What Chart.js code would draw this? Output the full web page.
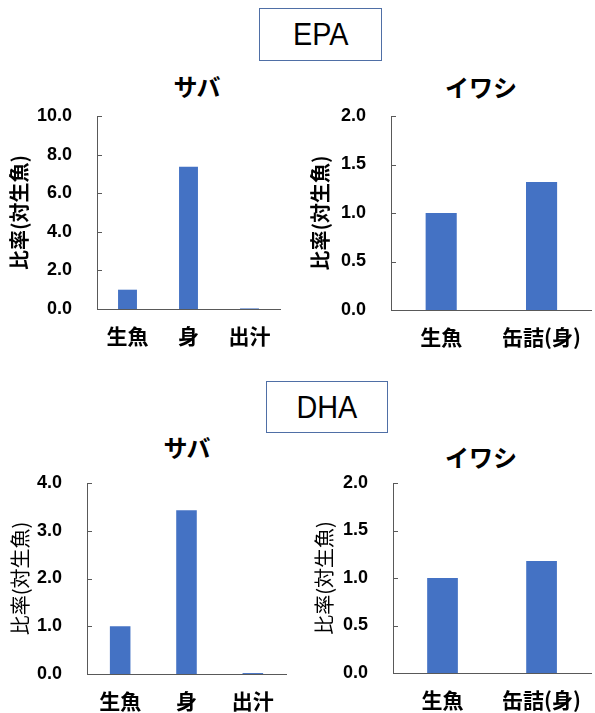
<!DOCTYPE html>
<html lang="ja">
<head>
<meta charset="utf-8">
<title>EPA・DHA 比率</title>
<script src="https://cdn.jsdelivr.net/npm/chart.js@4/dist/chart.umd.min.js"></script>
<style>
  html, body { margin: 0; padding: 0; background: #fff; }
  body { position: relative; width: 595px; height: 713px; overflow: hidden; }
  canvas { position: absolute; }
  .heading {
    position: absolute; box-sizing: border-box;
    border: 1.3px solid #4f6fa6; background: #fff;
    font-family: "Liberation Sans", Arial, sans-serif; font-size: 32px; color: #000;
    display: flex; align-items: center; justify-content: center;
  }
  .heading span { display: inline-block; transform: scaleX(0.9); }
  .ptitle {
    position: absolute; width: 200px; height: 30px; line-height: 30px; text-align: center;
    font-family: "Noto Sans CJK JP", sans-serif; font-weight: bold; font-size: 24px; color: #000;
  }
</style>
</head>
<body>
<div class="heading" style="left:259px; top:8px; width:123px; height:53px;"><span>EPA</span></div>
<div class="heading" style="left:266px; top:381px; width:122px; height:52px;"><span>DHA</span></div>

<div class="ptitle" style="left:97px; top:71px;">サバ</div>
<div class="ptitle" style="left:381px; top:72px;">イワシ</div>
<div class="ptitle" style="left:87px; top:432px;">サバ</div>
<div class="ptitle" style="left:381px; top:442px;">イワシ</div>

<canvas id="epaSabaChart" width="295" height="350" style="left:0px; top:0px;"></canvas>
<canvas id="epaIwashiChart" width="300" height="350" style="left:295px; top:0px;"></canvas>
<canvas id="dhaSabaChart" width="295" height="353" style="left:0px; top:360px;"></canvas>
<canvas id="dhaIwashiChart" width="300" height="353" style="left:295px; top:360px;"></canvas>

<script>
// Categories
const sabaCategories = ['生魚', '身', '出汁'];
const iwashiCategories = ['生魚', '缶詰(身)'];

// Ratios relative to raw fish
const epaSaba = [1.0, 7.37, 0.03];
const epaIwashi = [1.0, 1.32];
const dhaSaba = [1.0, 3.43, 0.02];
const dhaIwashi = [1.0, 1.18];

// Y axis tick values
const epaSabaTicks = [0, 2, 4, 6, 8, 10];
const dhaSabaTicks = [0, 1, 2, 3, 4];
const iwashiTicks = [0, 0.5, 1, 1.5, 2];

const yAxisTitle = '比率(対生魚)';

const BAR_COLOR = '#4472C4';
const AXIS_COLOR = '#595959';
const NUM_FONT = '"Liberation Sans", Arial, sans-serif';
const JP_FONT = '"Noto Sans CJK JP", sans-serif';

// Short tick marks pointing into the plot from the y axis
const innerTicks = {
  id: 'innerTicks',
  afterDatasetsDraw(chart) {
    const y = chart.scales.y;
    const left = chart.chartArea.left;
    const ctx = chart.ctx;
    ctx.save();
    ctx.strokeStyle = AXIS_COLOR;
    ctx.lineWidth = 1;
    y.ticks.forEach(t => {
      const py = Math.round(y.getPixelForValue(t.value)) + 0.5;
      ctx.beginPath();
      ctx.moveTo(left, py);
      ctx.lineTo(left + 5, py);
      ctx.stroke();
    });
    ctx.restore();
  }
};

function makeChart(id, categories, values, tickValues, area, opts) {
  const canvas = document.getElementById(id);
  const W = canvas.width, H = canvas.height;
  return new Chart(canvas, {
    type: 'bar',
    data: {
      labels: categories,
      datasets: [{
        data: values,
        backgroundColor: BAR_COLOR,
        borderWidth: 0,
        barPercentage: 0.31,
        categoryPercentage: 1.0
      }]
    },
    options: {
      responsive: false,
      animation: false,
      devicePixelRatio: 1,
      layout: { padding: { left: 0, top: area.top, right: W - area.right, bottom: 0 } },
      plugins: { legend: { display: false }, tooltip: { enabled: false }, title: { display: false } },
      scales: {
        x: {
          afterFit: s => { s.height = H - area.bottom; },
          grid: { display: false, drawTicks: false },
          border: { display: true, color: AXIS_COLOR, width: 1 },
          ticks: {
            padding: 14,
            color: '#000',
            maxRotation: 0,
            autoSkip: false,
            font: { family: JP_FONT, size: 21, weight: 'bold' }
          }
        },
        y: {
          min: tickValues[0],
          max: tickValues[tickValues.length - 1],
          afterFit: s => { s.width = area.left; },
          afterBuildTicks: s => { s.ticks = tickValues.map(v => ({ value: v })); },
          grid: { display: false, drawTicks: false },
          border: { display: true, color: AXIS_COLOR, width: 1 },
          ticks: {
            padding: 25,
            color: '#000',
            font: { family: NUM_FONT, size: 18, weight: 'bold' },
            callback: v => Number(v).toFixed(1)
          },
          title: {
            display: true,
            text: yAxisTitle,
            color: '#000',
            padding: { top: opts.titlePad, bottom: 0 },
            font: { family: JP_FONT, size: 20, weight: opts.titleBold ? 'bold' : 'normal' }
          }
        }
      }
    },
    plugins: [innerTicks]
  });
}

makeChart('epaSabaChart', sabaCategories, epaSaba, epaSabaTicks,
  { left: 97, top: 116, right: 280, bottom: 309 }, { titlePad: 7, titleBold: true });
makeChart('epaIwashiChart', iwashiCategories, epaIwashi, iwashiTicks,
  { left: 96, top: 116, right: 300, bottom: 310 }, { titlePad: 13, titleBold: true });
makeChart('dhaSabaChart', sabaCategories, dhaSaba, dhaSabaTicks,
  { left: 87, top: 123, right: 286, bottom: 314 }, { titlePad: 8, titleBold: false });
makeChart('dhaIwashiChart', iwashiCategories, dhaIwashi, iwashiTicks,
  { left: 98, top: 123, right: 300, bottom: 313 }, { titlePad: 17, titleBold: false });
</script>
</body>
</html>
